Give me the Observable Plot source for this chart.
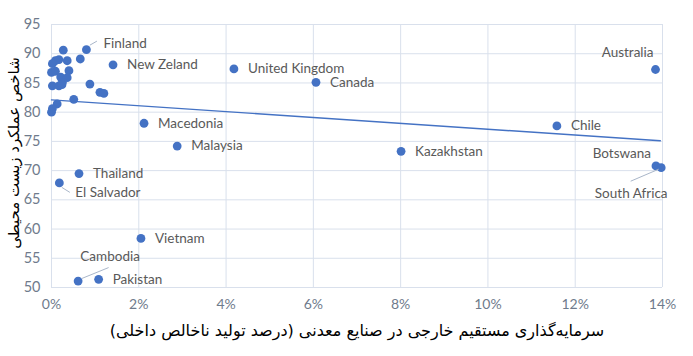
<!DOCTYPE html>
<html>
<head>
<meta charset="utf-8">
<script src="https://cdn.jsdelivr.net/npm/d3@7"></script>
<script src="https://cdn.jsdelivr.net/npm/@observablehq/plot@0.6"></script>
<style>
  html, body { margin: 0; padding: 0; background: #fff; }
  #chart { width: 693px; height: 356px; }
</style>
</head>
<body>
<div id="chart"></div>
<script>
// ---- Data ----
const labeledNames = ["Finland", "New Zeland", "United Kingdom", "Canada", "Australia", "Chile", "Kazakhstan", "Macedonia", "Malaysia", "Thailand", "El Salvador", "Vietnam", "Cambodia", "Pakistan", "Botswana", "South Africa"];
const labeledInvest = [0.80, 1.41, 4.18, 6.06, 13.84, 11.58, 8.01, 2.12, 2.88, 0.63, 0.18, 2.05, 0.61, 1.08, 13.85, 13.97];
const labeledEpi = [90.7, 88.1, 87.4, 85.1, 87.3, 77.65, 73.3, 78.1, 74.2, 69.5, 67.9, 58.4, 51.1, 51.4, 70.8, 70.5];

const otherInvest = [0.27, 0.66, 0.09, 0.17, 0.36, 0.02, 0.40, 0.00, 0.09, 0.21, 0.36, 0.25, 0.02, 0.17, 0.24, 0.88, 1.11, 1.20, 0.51, 0.13, 0.02, 0.00];
const otherEpi = [90.6, 89.1, 88.8, 89.0, 88.8, 88.3, 87.1, 86.8, 87.0, 86.0, 85.9, 85.1, 84.5, 84.5, 84.7, 84.8, 83.4, 83.2, 82.2, 81.4, 80.6, 80.0];

const trendInvest = [0, 13.95];
const trendEpi = [82.1, 75.1];

const xTicks = [0, 2, 4, 6, 8, 10, 12, 14];
const yTicks = [50, 55, 60, 65, 70, 75, 80, 85, 90, 95];

const xTitle = "سرمایه‌گذاری مستقیم خارجی در صنایع معدنی (درصد تولید ناخالص داخلی)";
const yTitle = "شاخص عملکرد زیست محیطی";

// ---- Label layout (pixel offsets, styling only) ----
const labelLayout = {
  "Finland": {dx: 17, dy: -6, anchor: "start"},
  "Australia": {dx: -2, dy: -17, anchor: "end"},
  "Botswana": {dx: -5, dy: -12, anchor: "end"},
  "South Africa": {dx: -30, dy: 26, anchor: "middle"},
  "El Salvador": {dx: 16, dy: 10, anchor: "start"},
  "Cambodia": {dx: 32, dy: -24, anchor: "middle"}
};
const leaderLayout = {
  "Finland": [[4, -4], [11, -8]],
  "El Salvador": [[3, 5], [11, 10]],
  "Cambodia": [[4, -2], [31, -13]],
  "South Africa": [[-2, 2], [-30, 14]]
};

const labeled = labeledNames.map((name, i) => ({name, x: labeledInvest[i], y: labeledEpi[i]}));
const others = otherInvest.map((x, i) => ({x, y: otherEpi[i]}));
const trend = trendInvest.map((x, i) => ({x, y: trendEpi[i]}));

const blue = "#4472c4";
const gridColor = "#d9e0ec";
const tickColor = "#6f7b8c";
const labelColor = "#595959";
const layoutOf = (d) => labelLayout[d.name] || {dx: 14, dy: 0, anchor: "start"};

const chart = Plot.plot({
  width: 693,
  height: 356,
  marginLeft: 51,
  marginRight: 31,
  marginTop: 24,
  marginBottom: 69,
  style: {fontFamily: "Lato, 'Open Sans', sans-serif", background: "#fff", overflow: "visible"},
  x: {domain: [0, 14], ticks: xTicks, tickFormat: d => d + "%"},
  y: {domain: [50, 95], ticks: yTicks},
  marks: [
    Plot.gridX(xTicks, {stroke: gridColor, strokeOpacity: 1, strokeWidth: 1}),
    Plot.gridY(yTicks, {stroke: gridColor, strokeOpacity: 1, strokeWidth: 1}),
    Plot.axisX(xTicks, {tickSize: 0, tickPadding: 12, fontSize: 14, fill: tickColor, label: null, tickFormat: d => d + "%"}),
    Plot.axisY(yTicks, {tickSize: 0, tickPadding: 11, fontSize: 14.5, fill: tickColor, label: null}),
    Plot.line(trend, {x: "x", y: "y", stroke: blue, strokeWidth: 1.4}),
    Plot.dot(others, {x: "x", y: "y", r: 4.4, fill: blue, stroke: "none"}),
    Plot.dot(labeled, {x: "x", y: "y", r: 4.4, fill: blue, stroke: "none"}),
    ...labeled.map(d => {
      const L = layoutOf(d);
      return Plot.text([d], {x: "x", y: "y", text: "name", dx: L.dx, dy: L.dy, textAnchor: L.anchor, fontSize: 13.5, fill: labelColor});
    }),
    Plot.text([xTitle + "\u200F"], {frameAnchor: "bottom", dy: 48, textAnchor: "middle", fontSize: 16, fill: "#000", fontFamily: "'DejaVu Sans', sans-serif"}),
    Plot.text([yTitle + "\u200F"], {frameAnchor: "left", dx: -37, dy: -3, textAnchor: "middle", rotate: -90, fontSize: 15, fill: "#000", fontFamily: "'DejaVu Sans', sans-serif"})
  ]
});

// leader lines, positioned through the chart's own scales
const sx = chart.scale("x"), sy = chart.scale("y");
const svg = d3.select(chart);
const g = svg.append("g").attr("stroke", "#a9b6c9").attr("stroke-width", 1);
labeled.forEach(d => {
  const seg = leaderLayout[d.name];
  if (!seg) return;
  const px = sx.apply(d.x), py = sy.apply(d.y);
  g.append("line")
    .attr("x1", px + seg[0][0]).attr("y1", py + seg[0][1])
    .attr("x2", px + seg[1][0]).attr("y2", py + seg[1][1]);
});

document.getElementById("chart").appendChild(chart);
</script>
</body>
</html>
